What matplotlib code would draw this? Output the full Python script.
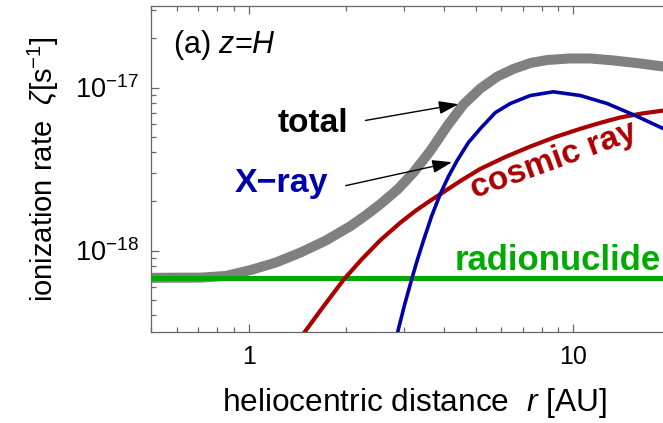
import numpy as np
import matplotlib
matplotlib.use("Agg")
from matplotlib import pyplot as plt
from matplotlib.ticker import FixedLocator, LogLocator, NullFormatter

plt.rcParams['font.family'] = ['Liberation Sans', 'DejaVu Sans']
plt.rcParams['mathtext.fontset'] = 'custom'
plt.rcParams['mathtext.rm'] = 'Liberation Sans'
plt.rcParams['mathtext.it'] = 'Liberation Sans:italic'
plt.rcParams['mathtext.bf'] = 'Liberation Sans:bold'

# ionization rates at z = H  [s^-1] vs heliocentric distance r [AU]
r_total = [0.5, 0.712, 0.85, 1.014, 1.211, 1.445, 1.726, 2.06, 2.291, 2.548,
           2.874, 3.219, 3.631, 4.097, 4.587, 5.173, 5.836, 6.537, 7.374,
           8.318, 9.79, 11.28, 13.27, 16.08, 18.92, 20.0]
zeta_total = [6.8e-19, 6.82e-19, 6.98e-19, 7.59e-19, 8.43e-19, 9.72e-19,
              1.15e-18, 1.413e-18, 1.64e-18, 1.929e-18, 2.367e-18, 3.01e-18,
              4.1e-18, 5.84e-18, 7.87e-18, 9.86e-18, 1.168e-17, 1.299e-17,
              1.413e-17, 1.475e-17, 1.507e-17, 1.507e-17, 1.466e-17,
              1.404e-17, 1.345e-17, 1.33e-17]

r_rn = [0.5, 20.0]
zeta_rn = [6.76e-19, 6.76e-19]

r_cr = [1.346, 1.473, 1.69, 1.965, 2.227, 2.548, 2.936, 3.265, 3.631, 3.898,
        4.489, 5.173, 6.178, 7.374, 8.802, 10.51, 12.11, 13.95, 16.31, 18.92, 20.0]
zeta_cr = [2.42e-19, 3.08e-19, 4.47e-19, 6.66e-19, 8.81e-19, 1.16e-18,
           1.485e-18, 1.752e-18, 2.026e-18, 2.22e-18, 2.67e-18, 3.17e-18,
           3.75e-18, 4.345e-18, 4.97e-18, 5.58e-18, 6.07e-18, 6.55e-18,
           6.93e-18, 7.22e-18, 7.33e-18]

r_xr = [2.774, 2.868, 3.02, 3.189, 3.311, 3.455, 3.657, 3.898, 4.124, 4.387,
        4.753, 5.173, 5.754, 6.401, 7.374, 8.679, 10.51, 12.7, 15.52, 18.92, 20.0]
zeta_xr = [2.37e-19, 3.08e-19, 4.63e-19, 6.83e-19, 8.81e-19, 1.151e-18,
           1.617e-18, 2.237e-18, 2.844e-18, 3.565e-18, 4.6e-18, 5.6e-18,
           7.02e-18, 7.98e-18, 8.93e-18, 9.41e-18, 8.93e-18, 7.98e-18,
           6.73e-18, 5.6e-18, 5.3e-18]

# label anchors and arrows (r, zeta)
total_label = (1.577, 5.32e-18)
xray_label = (1.262, 2.28e-18)
cr_label = (8.68, 3.56e-18)
rn_label = (18.66, 7.64e-19)
total_arrow = [(2.29, 6.28e-18), (4.43, 7.9e-18)]
xray_arrow = [(1.99, 2.5e-18), (4.23, 3.48e-18)]

GRAY = '#808080'
GREEN = '#00aa00'
RED = '#aa0000'
BLUE = '#0000aa'

fig = plt.figure(figsize=(6.63, 4.23), dpi=100)
ax = fig.add_axes([151 / 663, 1 - 332 / 423, 520 / 663, 326 / 423])

ax.plot(r_total, zeta_total, color=GRAY, lw=7.2, solid_capstyle='butt',
        solid_joinstyle='round', zorder=2)
ax.plot(r_rn, zeta_rn, color=GREEN, lw=3.6, solid_capstyle='butt', zorder=3)
ax.plot(r_cr, zeta_cr, color=RED, lw=3.0, solid_joinstyle='round', zorder=4)
ax.plot(r_xr, zeta_xr, color=BLUE, lw=2.6, solid_joinstyle='round', zorder=5)

ax.set_xscale('log')
ax.set_yscale('log')
ax.set_xlim(0.5, 20)
ax.set_ylim(10 ** -18.5, 10 ** -16.5)

ax.xaxis.set_major_locator(FixedLocator([1, 10]))
ax.set_xticklabels(['1', '10'])
ax.xaxis.set_minor_locator(LogLocator(base=10, subs=np.arange(2, 10)))
ax.xaxis.set_minor_formatter(NullFormatter())
ax.yaxis.set_major_locator(FixedLocator([1e-18, 1e-17]))
ax.set_yticklabels([r'$10^{-18}$', r'$10^{-17}$'])
ax.yaxis.set_minor_locator(LogLocator(base=10, subs=np.arange(2, 10)))
ax.yaxis.set_minor_formatter(NullFormatter())

for s in ax.spines.values():
    s.set_color('#666666')
    s.set_linewidth(0.9)
ax.tick_params(which='both', direction='in', top=True, right=True,
               color='#666666', width=0.9, pad=9)
ax.tick_params(axis='x', labelsize=18)
ax.tick_params(axis='y', labelsize=19.5)
ax.tick_params(which='major', length=6)
ax.tick_params(which='minor', length=3.5)

ax.set_xlabel(r'heliocentric distance  $r$ [AU]', fontsize=22.8)
ax.set_ylabel(r'ionization rate  $\zeta$[s$^{-1}$]', fontsize=21)
ax.xaxis.set_label_coords(0.506, -0.166)
ax.yaxis.set_label_coords(-0.173, 0.5)

ax.text(0.043, 0.856, r'(a) $z$=$H$', transform=ax.transAxes, fontsize=22,
        va='baseline')

ax.text(*total_label, 'total', color='black', fontsize=24, fontweight='bold',
        ha='center', va='baseline')
ax.text(*xray_label, 'X\u2212ray', color=BLUE, fontsize=24.5, fontweight='bold',
        ha='center', va='baseline')
ax.text(*cr_label, 'cosmic ray', color=RED, fontsize=24, fontweight='bold',
        ha='center', va='center', rotation=20, rotation_mode='anchor')
ax.text(*rn_label, 'radionuclide', color=GREEN, fontsize=25, fontweight='bold',
        ha='right', va='baseline')

for tail, tip in (total_arrow, xray_arrow):
    ax.annotate('', xy=tip, xytext=tail, textcoords='data',
                arrowprops=dict(arrowstyle='-|>,head_length=0.6,head_width=0.2',
                                color='black', lw=1.0, mutation_scale=20,
                                shrinkA=0, shrinkB=0))

fig.savefig('out.png', dpi=100)
